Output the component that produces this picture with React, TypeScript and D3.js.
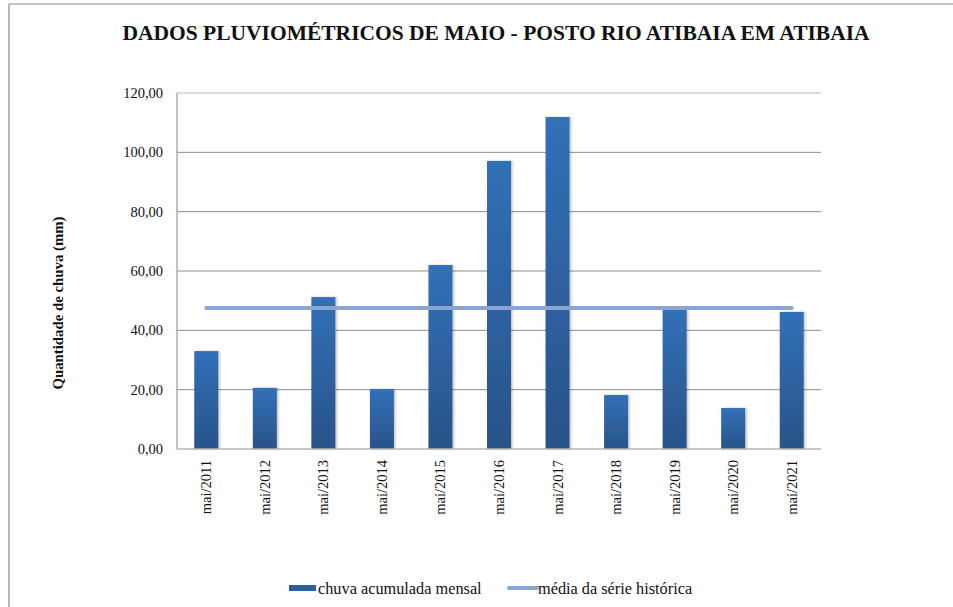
import React from 'react';
import * as d3 from 'd3';

const categories = ['mai/2011', 'mai/2012', 'mai/2013', 'mai/2014', 'mai/2015', 'mai/2016', 'mai/2017', 'mai/2018', 'mai/2019', 'mai/2020', 'mai/2021'];
const chuva = [33.0, 20.6, 51.2, 20.2, 62.0, 97.1, 111.9, 18.2, 47.2, 13.8, 46.2];
const media = [47.5, 47.5, 47.5, 47.5, 47.5, 47.5, 47.5, 47.5, 47.5, 47.5, 47.5];
const yTicks = [0, 20, 40, 60, 80, 100, 120];

const title = 'DADOS PLUVIOMÉTRICOS DE MAIO - POSTO RIO ATIBAIA EM ATIBAIA';
const yTitle = 'Quantidade de chuva (mm)';
const seriesNames = ['chuva acumulada mensal', 'média da série histórica'];

const W = 953;
const H = 607;
const left = 177, right = 821, top = 93, bottom = 449;
const FONT = 'Liberation Serif';

const App = () => {
  const x = d3.scaleBand().domain(categories).range([left, right]).paddingInner(0.59).paddingOuter(0.295);
  const xc = d3.scalePoint().domain(categories).range([left, right]).padding(0.5);
  const y = d3.scaleLinear().domain([0, 120]).range([bottom, top]);
  const meanPath = d3.line<number>().x((d, i) => xc(categories[i])!).y(d => y(d))(media) || '';
  const fmt = (v: number) => d3.format('.2f')(v).replace('.', ',');

  return (
    <svg width={W} height={H} style={{ position: 'absolute', left: 0, top: 0, background: '#fff', fontFamily: FONT }}>
      <defs>
        <linearGradient id="barGrad" x1="0" y1="0" x2="0" y2="1">
          <stop offset="0%" stopColor="#3170b8" />
          <stop offset="100%" stopColor="#2a5389" />
        </linearGradient>
        <filter id="shadow" x="-20%" y="-5%" width="150%" height="110%">
          <feDropShadow dx={1.5} dy={0} stdDeviation={1} floodColor="#000" floodOpacity={0.25} />
        </filter>
      </defs>

      {/* frame: top and left edges */}
      <line x1={9} x2={W} y1={4} y2={4} stroke="#888" strokeWidth={1.2} />
      <line x1={9} x2={9} y1={4} y2={H} stroke="#888" strokeWidth={1.2} />

      {/* gridlines */}
      {yTicks.filter(t => t > 0).map(t => (
        <line key={t} x1={left} x2={right} y1={y(t)} y2={y(t)}
          stroke={t === 120 ? '#b8b8b8' : '#8c8c8c'} strokeWidth={1} />
      ))}
      <line x1={left} x2={left} y1={top} y2={bottom} stroke="#9a9a9a" strokeWidth={1.2} />

      {/* y tick labels */}
      {yTicks.map(t => (
        <text key={t} x={163} y={y(t)} dy="0.35em" textAnchor="end" fontSize={14.5} fill="#111"
          style={{ fontFamily: FONT }}>{fmt(t)}</text>
      ))}

      {/* bars */}
      {chuva.map((v, i) => (
        <rect key={i} x={x(categories[i])} width={x.bandwidth()} y={y(v)} height={bottom - y(v)}
          fill="url(#barGrad)" filter="url(#shadow)" />
      ))}
      <line x1={left} x2={right} y1={bottom} y2={bottom} stroke="#b5b5b5" strokeWidth={1.5} />

      {/* x labels */}
      {categories.map(c => (
        <text key={c} transform={`translate(${xc(c)! + 5},${bottom + 11}) rotate(-90)`} textAnchor="end"
          fontSize={14.5} fill="#111" style={{ fontFamily: FONT }}>{c}</text>
      ))}

      {/* mean line */}
      <path d={meanPath} fill="none" stroke="#8aa5d1" strokeWidth={4} strokeLinecap="round" />

      {/* title */}
      <text x={496} y={40} textAnchor="middle" fontSize={21.5} fontWeight="bold" fill="#111"
        style={{ fontFamily: FONT }}>{title}</text>

      {/* y axis title */}
      <text transform="translate(63,303) rotate(-90)" textAnchor="middle" fontSize={14.8} fontWeight="bold"
        fill="#111" style={{ fontFamily: FONT }}>{yTitle}</text>

      {/* legend */}
      <rect x={289} y={585} width={27} height={6} fill="#2c5ea0" />
      <text x={318} y={594} fontSize={16.3} fill="#111" style={{ fontFamily: FONT }}>{seriesNames[0]}</text>
      <line x1={509} x2={537} y1={588} y2={588} stroke="#8aa5d1" strokeWidth={4} strokeLinecap="round" />
      <text x={538} y={594} fontSize={16.3} fill="#111" style={{ fontFamily: FONT }}>{seriesNames[1]}</text>
    </svg>
  );
};

export default App;
